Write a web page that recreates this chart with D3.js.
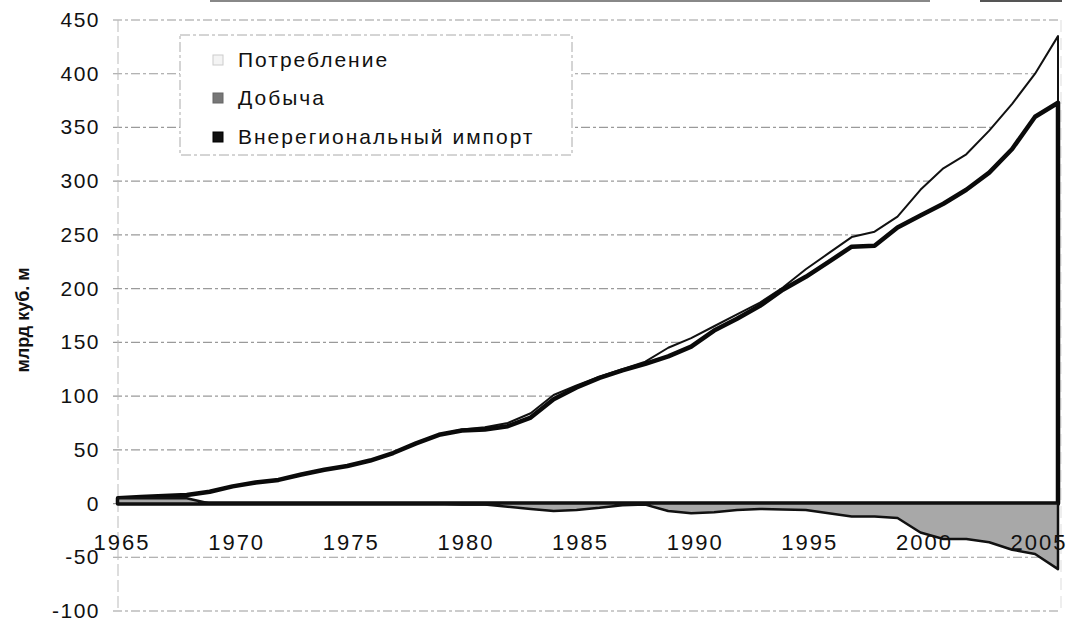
<!DOCTYPE html>
<html><head><meta charset="utf-8">
<script src="https://cdn.jsdelivr.net/npm/d3@7"></script>
<style>
html,body{margin:0;padding:0;background:#fff;}
svg{display:block;font-family:"Liberation Sans",Arial,sans-serif;}
</style></head>
<body>
<svg id="chart" width="1067" height="621"></svg>
<script>
const years = [1965,1966,1967,1968,1969,1970,1971,1972,1973,1974,1975,1976,1977,1978,1979,
  1980,1981,1982,1983,1984,1985,1986,1987,1988,1989,1990,1991,1992,1993,1994,1995,1996,1997,
  1998,1999,2000,2001,2002,2003,2004,2005,2006];
const consumption = [5,6,7,8,11,16,19.5,22,27,31.5,35,40,47,56,64,
  69,71,75,84,101,110,118,125,132,145,154,165,176,187,201,218,233,248,
  253,267,292,312,325,347,372,400,435];
const production = [5,6,7,8,11,16,19.5,22,27,31.5,35,40,47,56,64,
  68,69,72,80,97,108,117,124,130,137,146,161,172,184,199,211,225,239,
  240,257,268,279,292,308,330,360,373];
const imports = [5,5,5,5,0,0,0,0,0,0,0,0,0,0,0,
  -1,-1,-3,-5,-7,-6,-4,-1.5,-1,-7,-9,-8,-6,-5,-5.5,-6,-9,-12,
  -12,-13.5,-27,-33,-33,-36,-43,-47,-61];
const yTicks = [-100,-50,0,50,100,150,200,250,300,350,400,450];
const xTicks = [1965,1970,1975,1980,1985,1990,1995,2000,2005];
const seriesNames = ["Потребление","Добыча","Внерегиональный импорт"];
const yTitle = "млрд куб. м";

const svg = d3.select("#chart");
const x = d3.scaleLinear().domain([1965,2006]).range([118,1058]);
const y = d3.scaleLinear().domain([-100,450]).range([611,20]);

// top scan artefact lines
svg.append("line").attr("x1",210).attr("x2",930).attr("y1",1).attr("y2",1)
  .attr("stroke","#888").attr("stroke-width",2);
svg.append("line").attr("x1",980).attr("x2",1062).attr("y1",1).attr("y2",1)
  .attr("stroke","#555").attr("stroke-width",2);

// gridlines
const g = svg.append("g");
g.selectAll("line.grid").data(yTicks).join("line")
  .attr("x1",113).attr("x2",1061)
  .attr("y1",d=>y(d)).attr("y2",d=>y(d))
  .attr("stroke","#9a9a9a").attr("stroke-width",1.2)
  .attr("stroke-dasharray","9,3,3,3");
// y axis line and right border
g.append("line").attr("x1",118).attr("x2",118).attr("y1",y(450)).attr("y2",y(-100))
  .attr("stroke","#bbb").attr("stroke-width",1).attr("stroke-dasharray","12,4");
g.append("line").attr("x1",1061).attr("x2",1061).attr("y1",y(450)).attr("y2",y(-100))
  .attr("stroke","#ddd").attr("stroke-width",1).attr("stroke-dasharray","12,6");

// areas
const idx = years.map((d,i)=>i);
const areaOf = arr => d3.area().x(i=>x(years[i])).y0(y(0)).y1(i=>y(arr[i]));
svg.append("path").attr("d",areaOf(consumption)(idx)+"Z")
  .attr("fill","#fff").attr("stroke","#111").attr("stroke-width",2).attr("stroke-linejoin","round");
svg.append("path").attr("d",areaOf(production)(idx)+"Z")
  .attr("fill","#fff").attr("stroke","#0a0a0a").attr("stroke-width",4.5).attr("stroke-linejoin","round");
svg.append("path").attr("d",areaOf(imports)(idx)+"Z")
  .attr("fill","#a8a8a8").attr("stroke","#111").attr("stroke-width",2.5).attr("stroke-linejoin","round");

// y tick labels
svg.selectAll("text.yl").data(yTicks).join("text")
  .attr("x",100).attr("y",d=>y(d)+7)
  .attr("text-anchor","end").attr("font-size",21).attr("letter-spacing",1.5)
  .attr("fill","#111").text(d=>d);
// x tick labels
svg.selectAll("text.xl").data(xTicks).join("text")
  .attr("x",d=>x(d)+4).attr("y",y(0)+46)
  .attr("text-anchor","middle").attr("font-size",22).attr("letter-spacing",2)
  .attr("fill","#111").text(d=>d);
// y title
svg.append("text").attr("transform","translate(29,320) rotate(-90)")
  .attr("text-anchor","middle").attr("font-size",18).attr("font-weight","bold")
  .attr("fill","#111").text(yTitle);

// legend
const lg = svg.append("g");
lg.append("rect").attr("x",180).attr("y",35).attr("width",392).attr("height",120)
  .attr("fill","#fff").attr("stroke","#aaa").attr("stroke-width",1).attr("stroke-dasharray","10,3,3,3");
const swFill = ["#f4f4f4","#777","#111"];
const swStroke = ["#ccc","#666","#000"];
const rowY = [60,98,137];
seriesNames.forEach((n,i)=>{
  lg.append("rect").attr("x",213).attr("y",rowY[i]-5).attr("width",10).attr("height",10)
    .attr("fill",swFill[i]).attr("stroke",swStroke[i]);
  lg.append("text").attr("x",238).attr("y",rowY[i]+7).attr("font-size",21)
    .attr("letter-spacing",2).attr("fill","#111").text(n);
});
</script>
</body></html>
